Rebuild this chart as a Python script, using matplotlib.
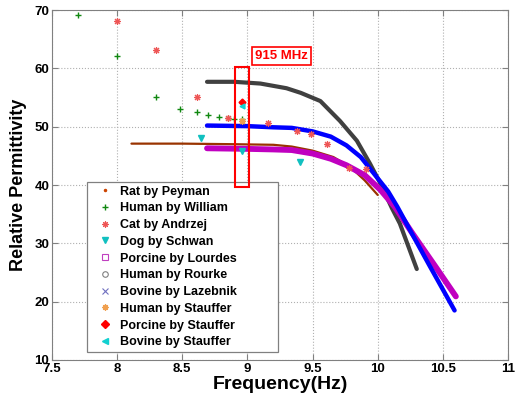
import matplotlib
matplotlib.use("Agg")
import matplotlib.pyplot as plt
from matplotlib.lines import Line2D
from matplotlib.patches import Rectangle

plt.rcParams['font.family'] = ['Liberation Sans', 'DejaVu Sans']
plt.rcParams['font.weight'] = 'bold'

# Scatter series (log10 frequency, relative permittivity)
william_x = [7.70, 8.00, 8.30, 8.48, 8.61, 8.70, 8.78, 8.85, 8.90, 8.96]
william_y = [69.1, 62.1, 55.1, 53.1, 52.6, 52.0, 51.7, 51.5, 51.4, 51.3]
cat_x = [8.00, 8.30, 8.61, 8.85, 9.16, 9.38, 9.49, 9.61, 9.78, 9.91]
cat_y = [68.1, 63.2, 55.1, 51.5, 50.6, 49.3, 48.8, 47.1, 42.9, 42.8]
dog_x = [8.64, 8.96, 9.40]
dog_y = [48.1, 45.8, 44.0]
stauffer_human_x = [8.96]
stauffer_human_y = [51.0]
stauffer_porcine_x = [8.96]
stauffer_porcine_y = [54.3]
stauffer_bovine_x = [8.96]
stauffer_bovine_y = [53.5]

# Curve series
peyman_x = [8.11, 8.50, 8.90, 9.20, 9.34, 9.50, 9.66, 9.79, 9.90, 10.00]
peyman_y = [47.1, 47.1, 47.0, 46.9, 46.6, 45.9, 44.8, 43.1, 40.8, 38.3]
rourke_x = [8.69, 8.90, 9.10, 9.30, 9.41, 9.56, 9.71, 9.84, 9.94, 10.02, 10.11, 10.17, 10.30]
rourke_y = [57.7, 57.7, 57.4, 56.6, 55.8, 54.4, 51.0, 47.6, 43.7, 40.3, 36.0, 33.4, 25.6]
lazebnik_x = [8.69, 9.00, 9.20, 9.34, 9.50, 9.64, 9.76, 9.87, 9.97, 10.08, 10.15, 10.25, 10.40, 10.50, 10.59]
lazebnik_y = [50.2, 50.1, 49.9, 49.8, 49.2, 48.3, 46.8, 44.8, 42.0, 38.9, 36.3, 32.2, 26.1, 22.1, 18.5]
lourdes_x = [8.69, 9.00, 9.20, 9.34, 9.50, 9.64, 9.76, 9.90, 10.02, 10.13, 10.27, 10.45, 10.60]
lourdes_y = [46.3, 46.2, 46.1, 46.0, 45.4, 44.5, 43.4, 41.7, 39.2, 36.3, 31.6, 25.8, 20.9]

legend_labels = ["Rat by Peyman", "Human by William", "Cat by Andrzej", "Dog by Schwan",
                 "Porcine by Lourdes", "Human by Rourke", "Bovine by Lazebnik",
                 "Human by Stauffer", "Porcine by Stauffer", "Bovine by Stauffer"]

fig = plt.figure(figsize=(5.21, 4.03), dpi=100)
ax = fig.add_axes([0.0998, 0.1067, 0.8752, 0.8683])

ax.plot(peyman_x, peyman_y, color='#993300', lw=1.6, solid_capstyle='round', solid_joinstyle='round')
ax.plot(rourke_x, rourke_y, color='#404040', lw=3.0, solid_capstyle='round', solid_joinstyle='round')
ax.plot(lourdes_x, lourdes_y, color='#c000c0', lw=4.2, solid_capstyle='round', solid_joinstyle='round')
ax.plot(lazebnik_x, lazebnik_y, color='#0000ff', lw=3.2, solid_capstyle='round', solid_joinstyle='round')

ax.plot(william_x, william_y, '+', color='#118811', ms=5, mew=1.0, ls='none')
ax.plot(cat_x, cat_y, marker=(8, 2, 0), color='#ee5555', ms=5, mew=0.8, ls='none')
ax.plot(dog_x, dog_y, 'v', color='#11c0c0', ms=4.5, ls='none')
ax.plot(stauffer_human_x, stauffer_human_y, marker=(8, 2, 0), color='#f0a050', ms=5, mew=0.9, ls='none')
ax.plot(stauffer_porcine_x, stauffer_porcine_y, 'D', color='#ff0000', ms=3.5, ls='none')
ax.plot(stauffer_bovine_x, stauffer_bovine_y, '<', color='#11d0d0', ms=3.5, ls='none')

ax.add_patch(Rectangle((8.905, 39.7), 0.105, 20.6, fill=False, edgecolor='#ff0000', lw=1.5, zorder=5))
ax.text(9.26, 62.1, "915 MHz", color='#ff0000', fontsize=9.5, fontweight='bold', ha='center', va='center',
        bbox=dict(boxstyle='square,pad=0.25', facecolor='white', edgecolor='#ff0000', lw=1.2), zorder=6)

ax.set_xlim(7.5, 11)
ax.set_ylim(10, 70)
ax.set_xticks([7.5, 8, 8.5, 9, 9.5, 10, 10.5, 11])
ax.set_xticklabels(["7.5", "8", "8.5", "9", "9.5", "10", "10.5", "11"])
ax.set_yticks([10, 20, 30, 40, 50, 60, 70])
ax.grid(True, ls=':', color='#b0b0b0', lw=0.8)
ax.tick_params(direction='in', top=True, right=True, length=4, color='#808080', labelsize=9.5, pad=2)
for lab in ax.get_xticklabels() + ax.get_yticklabels():
    lab.set_fontweight('bold')
for s in ax.spines.values():
    s.set_color('#808080')
ax.set_xlabel("Frequency(Hz)", fontsize=14, fontweight='bold', labelpad=1)
ax.set_ylabel("Relative Permittivity", fontsize=13, fontweight='bold', labelpad=5)

handles = [
    Line2D([], [], ls='none', marker='.', color='#cc4400', ms=3),
    Line2D([], [], ls='none', marker='+', color='#118811', ms=5),
    Line2D([], [], ls='none', marker=(8, 2, 0), color='#ee5555', ms=4.5, mew=0.8),
    Line2D([], [], ls='none', marker='v', color='#11c0c0', ms=5),
    Line2D([], [], ls='none', marker='s', mfc='none', mec='#c040c0', ms=4, mew=0.8),
    Line2D([], [], ls='none', marker='o', mfc='none', mec='#808080', ms=4, mew=0.8),
    Line2D([], [], ls='none', marker='x', color='#7070c0', ms=4, mew=0.8),
    Line2D([], [], ls='none', marker=(8, 2, 0), color='#f0a050', ms=4.5, mew=0.9),
    Line2D([], [], ls='none', marker='D', color='#ff0000', ms=4),
    Line2D([], [], ls='none', marker='<', color='#11d0d0', ms=4),
]
ax.add_patch(Rectangle((0.0768, 0.0229), 0.4189, 0.4857, transform=ax.transAxes,
                       facecolor='white', edgecolor='#808080', lw=0.9, zorder=4.5))
leg = ax.legend(handles, legend_labels, loc='upper left', bbox_to_anchor=(0.1015, 0.4986),
                frameon=False, borderpad=0, borderaxespad=0,
                handlelength=1.0, handletextpad=0.74, labelspacing=0.38,
                prop={'weight': 'bold', 'size': 9})
leg.set_zorder(5)

fig.savefig("out.png", dpi=100)
